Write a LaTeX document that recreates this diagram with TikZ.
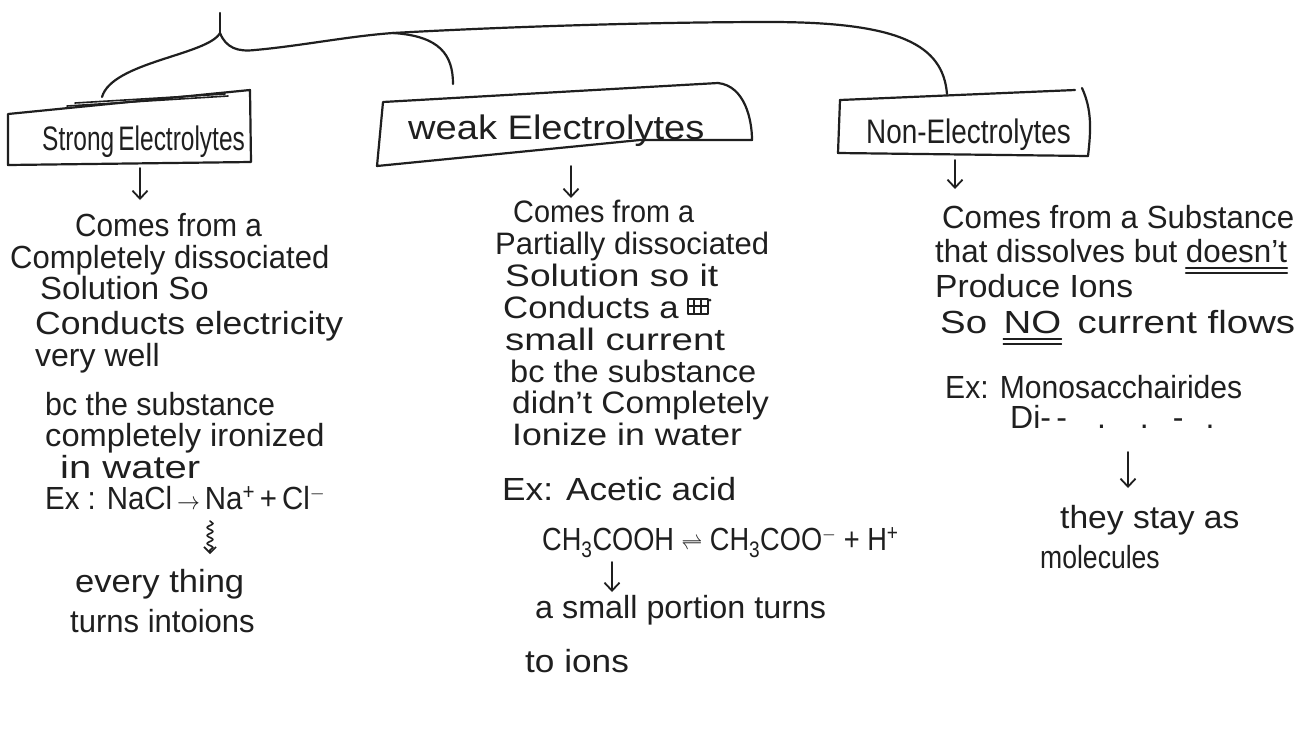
\documentclass[tikz,border=0pt]{standalone}
\usepackage{graphicx}
\usepackage{fontspec}
\setmainfont{Liberation Sans}
\usetikzlibrary{arrows.meta,decorations.pathmorphing}
\newcommand{\hsq}[2]{\scalebox{#1}[1]{#2}}
\begin{document}
\begin{tikzpicture}[x=1pt,y=-1pt,line cap=round,line join=round,
  ink/.style={line width=2.2pt,draw=black!88},
  thin ink/.style={line width=1.6pt,draw=black!88},
  txt/.style={anchor=base west,inner sep=0pt,font=\fontsize{32}{38}\selectfont,text=black!88},
  wtxt/.style={txt,font=\fontsize{31}{36}\selectfont},
  ttl/.style={anchor=base west,inner sep=0pt,font=\fontsize{34}{40}\selectfont,text=black!88},
  arr/.style={line width=1.8pt,draw=black!88,-{Straight Barb[length=8pt,width=15pt,line width=1.8pt]}}]
\useasboundingbox[fill=white] (0,0) rectangle (1315,740);

% ---------- top brace ----------
\coordinate (top) at (220,13);
\coordinate (j) at (220,33);
\coordinate (sTop) at (102,97);
\coordinate (split) at (393,33);
\coordinate (wTop) at (453,84);
\coordinate (mid) at (770,22);
\coordinate (nTop) at (947,94);
\draw[ink] (top) -- (j);
\draw[ink] (j) .. controls (208,55) and (112,62) .. (sTop);
\draw[ink] (j) .. controls (226,48) and (238,52) .. (255,50)
  .. controls (300,46) and (350,36) .. (split)
  .. controls (500,27) and (650,22) .. (mid)
  .. controls (900,22) and (943,45) .. (nTop);
\draw[ink] (split) .. controls (440,36) and (453,55) .. (wTop);

% ---------- boxes ----------
\draw[ink] (8,114) -- (250,90) -- (251,162) -- (8,165) -- cycle;
\draw[thin ink] (67,106) -- (228,96);
\draw[thin ink] (75,103) -- (225,94);
\node[ttl] (sT) at (42,150) {\hsq{0.72}{Strong\,Electrolytes}};

\draw[ink] (383,102) -- (718,83) .. controls (745,86) and (752,120) .. (752,140)
  -- (640,140) -- (377,166) -- cycle;
\node[ttl] (wT) at (408,139) {\hsq{1.12}{weak Electrolytes}};

\draw[ink] (840,100) -- (1075,90);
\draw[ink] (840,100) -- (838,153) -- (1088,156);
\draw[ink] (1082,88) .. controls (1092,110) and (1091,130) .. (1088,156);
\node[ttl] (nT) at (866,143) {\hsq{0.82}{Non-Electrolytes}};

% ---------- arrows from boxes ----------
\coordinate (sA1) at (140,168); \coordinate (sA2) at (140,200);
\coordinate (wA1) at (571,166); \coordinate (wA2) at (571,198);
\coordinate (nA1) at (955,160); \coordinate (nA2) at (955,189);
\draw[arr] (sA1) -- (sA2);
\draw[arr] (wA1) -- (wA2);
\draw[arr] (nA1) -- (nA2);

% ---------- strong column ----------
\node[txt] (s1) at (75,236) {\hsq{0.93}{Comes from a}};
\node[txt] (s2) at (10,268) {\hsq{0.97}{Completely dissociated}};
\node[txt] (s3) at (40,299) {\hsq{1.03}{Solution So}};
\node[txt] (s4) at (35,334) {\hsq{1.11}{Conducts electricity}};
\node[txt] (s5) at (35,366) {very well};
\node[txt] (s6) at (45,415) {\hsq{0.95}{bc the substance}};
\node[txt] (s7) at (45,446) {\hsq{1.02}{completely ironized}};
\node[txt] (s8) at (60,478) {\hsq{1.25}{in water}};
\node[txt] (s9) at (45,509) {\hsq{0.92}{Ex : NaCl\,$\rightarrow$\,Na\textsuperscript{+}\,+\,Cl\textsuperscript{$-$}}};
\coordinate (sq1) at (210,521); \coordinate (sq2) at (210,554);
\draw[line width=1.6pt,draw=black!88,decorate,decoration={snake,amplitude=3pt,segment length=8pt,post length=4pt},-{Straight Barb[length=6pt,width=12pt,line width=1.6pt]}] (sq1) -- (sq2);
\node[txt] (s10) at (75,592) {\hsq{1.08}{every thing}};
\node[txt] (s11) at (70,632) {\hsq{0.97}{turns intoions}};

% ---------- weak column ----------
\node[wtxt] (w1) at (513,222) {\hsq{0.93}{Comes from a}};
\node[wtxt] (w2) at (495,254) {\hsq{1.0}{Partially dissociated}};
\node[wtxt] (w3) at (505,286) {\hsq{1.2}{Solution so it}};
\node[wtxt] (w4) at (503,318) {\hsq{1.12}{Conducts a}};
\draw[thin ink] (688,299) rectangle (708,314);
\draw[thin ink] (694,299) -- (694,314) (701,299) -- (701,314) (688,306) -- (708,306);
\fill[black!88] (710,300) circle (1.5pt);
\node[wtxt] (w5) at (505,350) {\hsq{1.24}{small current}};
\node[wtxt] (w6) at (510,382) {\hsq{1.05}{bc the substance}};
\node[wtxt] (w7) at (512,413) {\hsq{1.08}{didn't Completely}};
\node[wtxt] (w8) at (512,445) {\hsq{1.15}{Ionize in water}};
\node[txt] (w9) at (502,500) {\hsq{1.1}{Ex: Acetic acid}};
\node[txt] (w10) at (542,550) {\hsq{0.85}{CH\textsubscript{3}COOH $\rightleftharpoons$ CH\textsubscript{3}COO\textsuperscript{$-$} + H\textsuperscript{+}}};
\coordinate (wB1) at (612,562); \coordinate (wB2) at (612,592);
\draw[arr] (wB1) -- (wB2);
\node[txt] (w11) at (535,618) {\hsq{1.01}{a small portion turns}};
\node[txt] (w12) at (525,672) {\hsq{1.1}{to ions}};

% ---------- non column ----------
\node[txt] (n1) at (942,228) {\hsq{0.975}{Comes from a Substance}};
\node[txt] (n2) at (935,262) {\hsq{0.98}{that dissolves but}};
\node[txt] (n2b) at ([xshift=8pt]n2.base east) {\hsq{0.98}{doesn't}};
\draw[thin ink] ([yshift=-6pt]n2b.base west) -- ([yshift=-6pt]n2b.base east);
\draw[thin ink] ([yshift=-11pt]n2b.base west) -- ([yshift=-11pt]n2b.base east);
\node[txt] (n3) at (935,297) {\hsq{1.05}{Produce Ions}};
\node[txt] (n4) at (940,333) {\hsq{1.2}{So}};
\node[txt] (n4b) at ([xshift=16pt]n4.base east) {\hsq{1.2}{NO}};
\node[txt] (n4c) at ([xshift=16pt]n4b.base east) {\hsq{1.2}{current flows}};
\draw[thin ink] ([yshift=-6pt]n4b.base west) -- ([yshift=-6pt]n4b.base east);
\draw[thin ink] ([yshift=-11pt]n4b.base west) -- ([yshift=-11pt]n4b.base east);
\node[txt] (n5) at (945,398) {\hsq{0.94}{Ex: Monosacchairides}};
\node[txt] (n6) at (1010,428) {Di-\,-\hspace{30pt}.\hspace{34pt}.\hspace{24pt}-\hspace{22pt}.};
\coordinate (nB1) at (1128,452); \coordinate (nB2) at (1128,488);
\draw[arr] (nB1) -- (nB2);
\node[txt] (n7) at (1060,528) {\hsq{1.05}{they stay as}};
\node[txt] (n8) at (1040,568) {\hsq{0.83}{molecules}};
\end{tikzpicture}
\end{document}
